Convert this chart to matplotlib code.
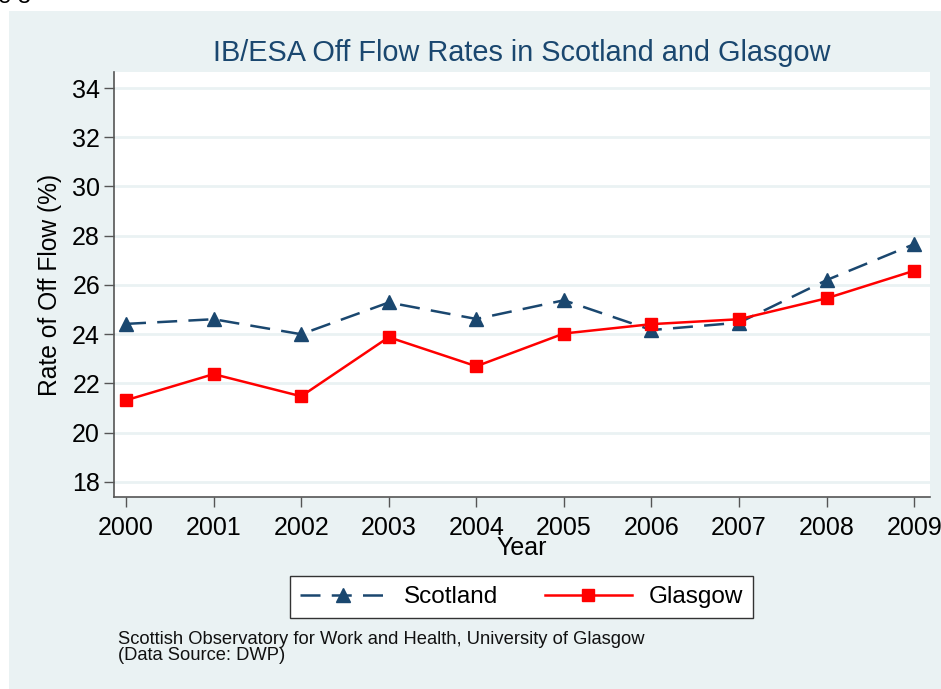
"""
IB/ESA off flow rates, Scotland vs Glasgow (Stata s2color look).
"""
import matplotlib
matplotlib.use('Agg')
import matplotlib.pyplot as plt
from matplotlib.patches import Rectangle

# Data
years = [2000, 2001, 2002, 2003, 2004, 2005, 2006, 2007, 2008, 2009]
scotland = [24.42, 24.61, 24.0, 25.29, 24.62, 25.38, 24.17, 24.47, 26.2, 27.66]
glasgow = [21.32, 22.38, 21.48, 23.88, 22.7, 24.03, 24.41, 24.61, 25.46, 26.58]
y_ticks = [18, 20, 22, 24, 26, 28, 30, 32, 34]

BG = '#EAF2F3'
NAVY = '#1A476F'
FONT = 'Liberation Sans'

plt.rcParams['font.family'] = [FONT, 'DejaVu Sans']

W, H = 941, 689
fig = plt.figure(figsize=(W / 100, H / 100), dpi=100)
fig.patch.set_facecolor('white')

# outer grey panel (cut off at top-left like the source)
fig.patches.append(Rectangle((9 / W, 0), 1 - 9 / W, 1 - 11 / H, transform=fig.transFigure,
                             facecolor=BG, edgecolor='none', zorder=-5))
fig.text(-2 / W, 1 - 3 / H, 'e 3', fontsize=17, va='baseline', ha='left', color='black')

ax = fig.add_axes([114 / W, (H - 497) / H, (930 - 114) / W, (497 - 72) / H])
ax.set_zorder(2)
ax.set_facecolor('white')

ax.plot(years, scotland, color=NAVY, lw=1.8, ls=(0, (8, 4.5)), marker='^', ms=10,
        mec=NAVY, mfc=NAVY, label='Scotland', zorder=3)
ax.plot(years, glasgow, color='#FF0000', lw=1.8, marker='s', ms=9,
        mec='#FF0000', mfc='#FF0000', label='Glasgow', zorder=4)

ax.set_xlim(1999.863, 2009.18)
ax.set_ylim(17.39, 34.65)
ax.set_xticks(years)
ax.set_yticks(y_ticks)
ax.grid(axis='y', color=BG, lw=2)
ax.set_axisbelow(True)

for s in ['top', 'right']:
    ax.spines[s].set_visible(False)
for s in ['left', 'bottom']:
    ax.spines[s].set_color('#555555')
    ax.spines[s].set_linewidth(1.2)

ax.tick_params(axis='both', labelsize=18, length=7, width=1, color='#555555')
ax.tick_params(axis='x', pad=7)
ax.tick_params(axis='y', pad=3)

ax.set_title('IB/ESA Off Flow Rates in Scotland and Glasgow', fontsize=20.8, color=NAVY, pad=8)
ax.set_xlabel('Year', fontsize=18, labelpad=-3)
ax.set_ylabel('Rate of Off Flow (%)', fontsize=17.7, labelpad=7)

leg = fig.legend(loc='center', bbox_to_anchor=(521.5 / W, 1 - 597 / H), ncol=2,
                 fontsize=17.5, frameon=True, fancybox=False, handlelength=3.6,
                 columnspacing=1.9, handletextpad=0.7, borderpad=0.4,
                 framealpha=1, facecolor='white')
leg.get_frame().set_edgecolor('#333333')
leg.get_frame().set_linewidth(1.0)

fig.text(118 / W, 1 - 631 / H,
         'Scottish Observatory for Work and Health, University of Glasgow\n(Data Source: DWP)',
         fontsize=13.2, va='top', ha='left', linespacing=0.95, color='#111111')

fig.savefig('out.png', dpi=100)
